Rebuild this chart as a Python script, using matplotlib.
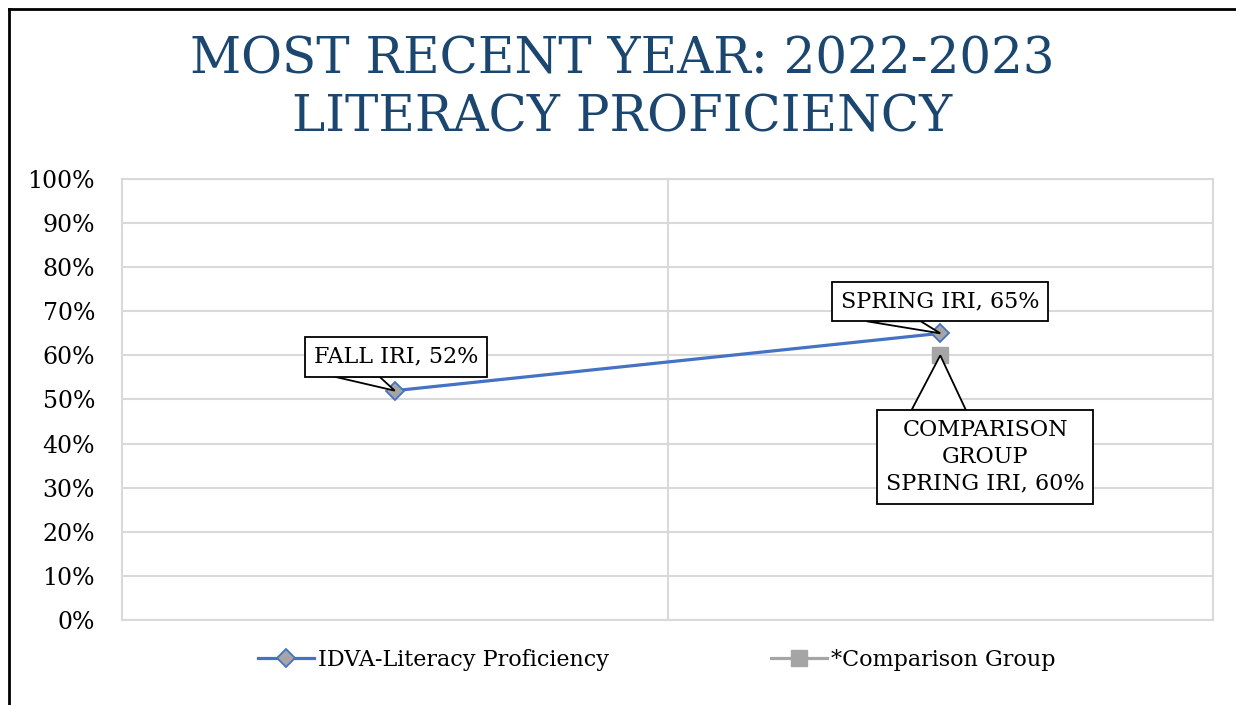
import matplotlib
matplotlib.use("Agg")
import matplotlib.pyplot as plt
from matplotlib.lines import Line2D
from matplotlib.patches import Polygon
from matplotlib.transforms import IdentityTransform
from matplotlib.ticker import PercentFormatter

# data
terms = ["Fall", "Spring"]
idva_values = [52, 65]
comparison_terms = ["Spring"]
comparison_values = [60]
point_labels = ["FALL IRI, 52%", "SPRING IRI, 65%"]
comparison_label = "COMPARISON\nGROUP\nSPRING IRI, 60%"
y_ticks = list(range(0, 101, 10))

BLUE = "#4472C4"
GRAY = "#A5A5A5"
TITLE_COLOR = "#1B4670"
GRID = "#D9D9D9"

plt.rcParams["font.family"] = ["DejaVu Serif"]

fig = plt.figure(figsize=(12.36, 7.05), dpi=100)
ax = fig.add_axes([0.0987, 0.1206, 0.8827, 0.6255])

x_idva = [terms.index(t) for t in terms]
x_comp = [terms.index(t) for t in comparison_terms]

ax.plot(x_idva, idva_values, color=BLUE, linewidth=2.3, marker="D",
        markersize=9, markerfacecolor=GRAY, markeredgecolor=BLUE,
        markeredgewidth=1.3, label="IDVA-Literacy Proficiency", zorder=4)
ax.plot(x_comp, comparison_values, color=GRAY, linewidth=2.3, marker="s",
        markersize=11.5, markerfacecolor=GRAY, markeredgecolor=GRAY,
        label="*Comparison Group", zorder=3)

ax.set_xlim(-0.5, len(terms) - 0.5)
ax.set_ylim(0, 100)
ax.set_yticks(y_ticks)
ax.yaxis.set_major_formatter(PercentFormatter(decimals=0))
ax.set_xticks([i + 0.5 for i in range(len(terms) - 1)])
ax.tick_params(axis="x", length=0, labelbottom=False)
ax.tick_params(axis="y", length=0, labelsize=17, pad=19.5)
ax.grid(True, color=GRID, linewidth=1.5)
ax.set_axisbelow(True)
for s in ax.spines.values():
    s.set_color(GRID)
    s.set_linewidth(1.5)

box = dict(boxstyle="square,pad=0.4", fc="white", ec="black", lw=1.3)

callouts = []
callouts.append(ax.annotate(point_labels[0], xy=(x_idva[0], idva_values[0]),
                            xytext=(0.7, 24.5), textcoords="offset points",
                            fontsize=16, ha="center", va="center", bbox=box,
                            zorder=7))
callouts.append(ax.annotate(point_labels[1], xy=(x_idva[1], idva_values[1]),
                            xytext=(0, 23), textcoords="offset points",
                            fontsize=16, ha="center", va="center", bbox=box,
                            zorder=7))
callouts.append(ax.annotate(comparison_label,
                            xy=(x_comp[0], comparison_values[0]),
                            xytext=(32.4, -73), textcoords="offset points",
                            fontsize=16, ha="center", va="center",
                            linespacing=1.3, bbox=box, zorder=7))

fig.text(0.5036, 0.874, "MOST RECENT YEAR: 2022-2023\nLITERACY PROFICIENCY",
         ha="center", va="center", fontsize=36, color=TITLE_COLOR,
         linespacing=1.21)

leg = fig.legend(loc="center", bbox_to_anchor=(0.5316, 0.064), ncol=2,
                 frameon=False, fontsize=16, handlelength=2.5,
                 columnspacing=7.3, handletextpad=0.2)

# callout pointers: triangle from the box edge to the data point
fig.canvas.draw()
renderer = fig.canvas.get_renderer()
for ann in callouts:
    bb = ann.get_bbox_patch().get_window_extent(renderer)
    px, py = ax.transData.transform(ann.xy)
    edge_y = bb.y0 if py < bb.y0 else bb.y1
    x1 = bb.x0 + 0.16 * bb.width
    x2 = bb.x0 + 0.41 * bb.width
    tri = Polygon([(x1, edge_y), (px, py), (x2, edge_y)], closed=True,
                  fc="white", ec="black", lw=1.3, zorder=6,
                  transform=IdentityTransform(), clip_on=False)
    ax.add_artist(tri)

# outer frame (top and left edges only)
fig.add_artist(Line2D([0.0073, 1.0], [0.987, 0.987], color="black", lw=2,
                      transform=fig.transFigure))
fig.add_artist(Line2D([0.0073, 0.0073], [0.0, 0.987], color="black", lw=2,
                      transform=fig.transFigure))

fig.savefig("out.png", dpi=100)
